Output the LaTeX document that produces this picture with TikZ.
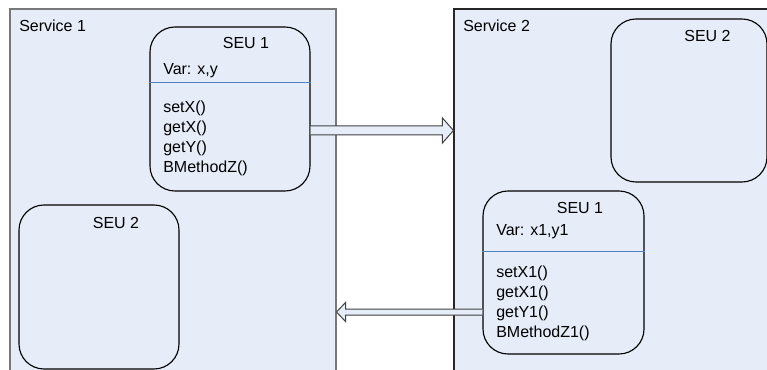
\documentclass[tikz,border=0pt]{standalone}
\usepackage{fontspec}
\setmainfont{Liberation Sans}
\usetikzlibrary{calc}
\definecolor{svcfill}{RGB}{230,236,248}
\definecolor{svcline}{RGB}{120,120,120}
\definecolor{divline}{RGB}{79,129,189}
\begin{document}
\begin{tikzpicture}[x=0.75pt,y=-0.75pt,
  svc/.style={draw=svcline,fill=svcfill,line width=0.8pt,rectangle,inner sep=0pt},
  seu/.style={draw=black,line width=0.85pt,rectangle,rounded corners=18.75pt,inner sep=0pt},
  txt/.style={inner sep=0pt,anchor=base west,font=\fontsize{12pt}{15pt}\selectfont},
  ttl/.style={inner sep=0pt,anchor=base,font=\fontsize{12pt}{15pt}\selectfont},
  hollow/.style={draw=black!75,fill=svcfill,line width=0.75pt,line join=miter},
  divider/.style={draw=divline,line width=0.6pt}]
\clip (0,0) rectangle (767,370);
\fill[white] (0,0) rectangle (767,370);
% services
\node[svc,minimum width=244.5pt,minimum height=278.25pt] (s1) at (173,194.5) {};
\node[svc,draw=black!85,minimum width=244.5pt,minimum height=278.25pt] (s2) at (617,194.5) {};
\node[txt] (s1t) at (19,31.5) {Service 1};
\node[txt] (s2t) at (463,31.5) {Service 2};
% SEU boxes
\node[seu,minimum width=120pt,minimum height=123pt] (seuA) at (230,109) {};
\node[seu,minimum width=120pt,minimum height=123pt] (seuB) at (99,287) {};
\node[seu,minimum width=117pt,minimum height=122.25pt] (seuC) at (689,100.5) {};
\node[seu,minimum width=120.75pt,minimum height=122.25pt] (seuD) at (563.5,272.5) {};
% SEU 1 left content
\node[ttl] (aT) at (246,49) {SEU 1};
\node[txt] (aV) at (163,75) {Var: x,y};
\draw[divider] (seuA.west |- 0,82) -- (seuA.east |- 0,82);
\node[txt] (a1) at (163,113) {setX()};
\node[txt] (a2) at (163,133) {getX()};
\node[txt] (a3) at (163,153) {getY()};
\node[txt] (a4) at (163,173) {BMethodZ()};
% SEU 2 titles
\node[ttl] (bT) at (116,229) {SEU 2};
\node[ttl] (cT) at (707.5,42) {SEU 2};
% SEU 1 right content
\node[ttl] (dT) at (580,214) {SEU 1};
\node[txt] (dV) at (496,236) {Var: x1,y1};
\draw[divider] (seuD.west |- 0,251) -- (seuD.east |- 0,251);
\node[txt] (d1) at (496,277) {setX1()};
\node[txt] (d2) at (496,297) {getX1()};
\node[txt] (d3) at (496,317) {getY1()};
\node[txt] (d4) at (496,337) {BMethodZ1()};
% arrows
\coordinate (ya) at (0,130.5);
\coordinate (yb) at (0,312);
\coordinate (aS) at (seuA.east |- ya);
\coordinate (aE) at (s2.west |- ya);
\draw[hollow] ($(aS)+(0,-4.5)$) -- ($(aE)+(-11,-4.5)$) -- ($(aE)+(-11,-12.5)$) -- (aE)
  -- ($(aE)+(-11,12.5)$) -- ($(aE)+(-11,4.5)$) -- ($(aS)+(0,4.5)$);
\coordinate (bS) at (seuD.west |- yb);
\coordinate (bE) at (s1.east |- yb);
\draw[hollow] ($(bS)+(0,-3)$) -- ($(bE)+(9,-3)$) -- ($(bE)+(9,-9.5)$) -- (bE)
  -- ($(bE)+(9,9.5)$) -- ($(bE)+(9,3)$) -- ($(bS)+(0,3)$);
\end{tikzpicture}
\end{document}
